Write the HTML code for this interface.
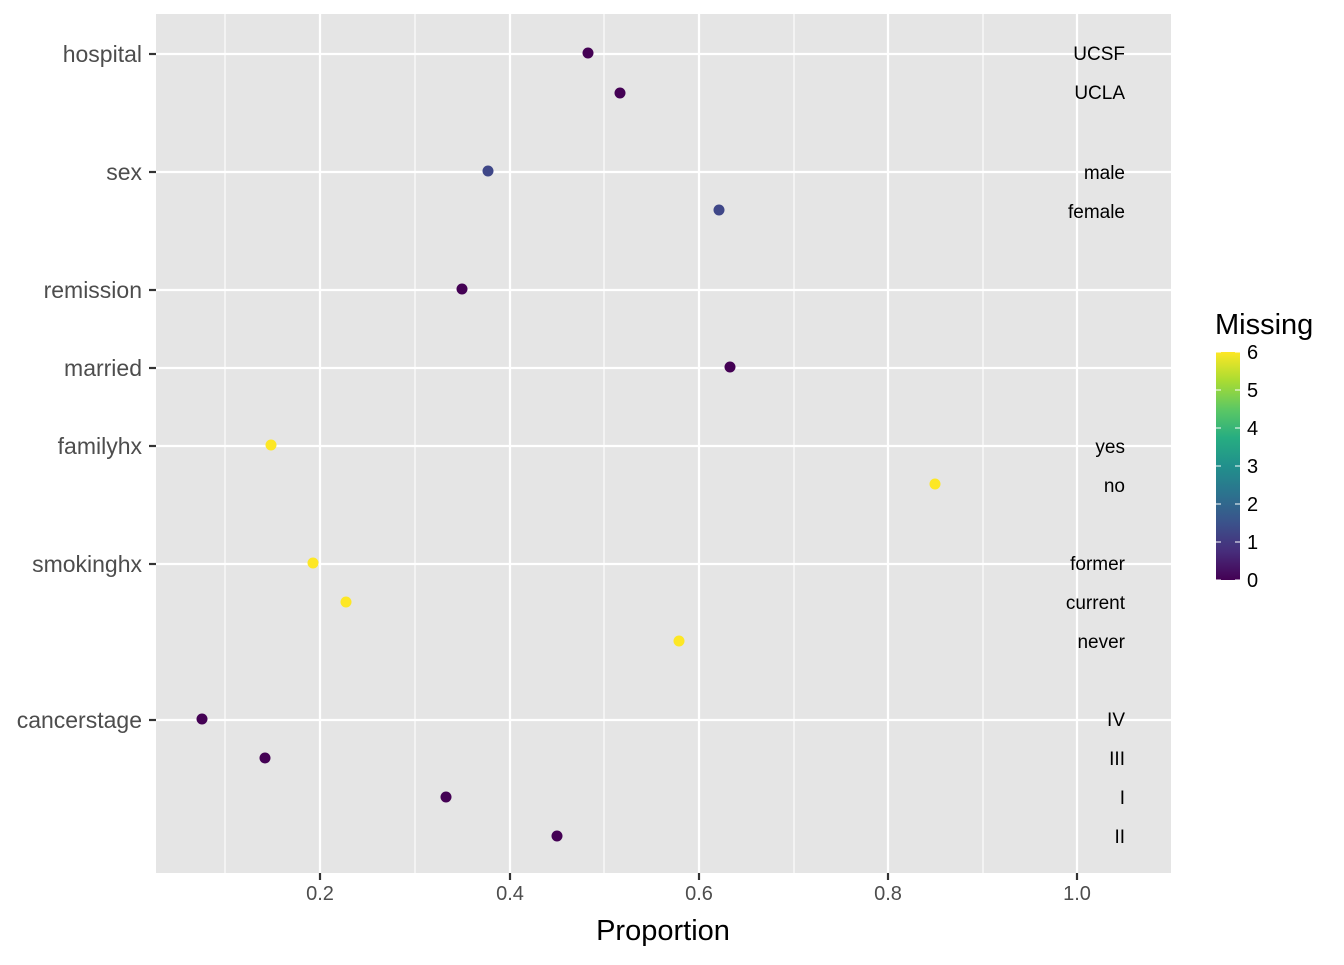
<!DOCTYPE html>
<html><head><meta charset="utf-8"><style>html,body{margin:0;padding:0;background:#fff}</style></head>
<body>
<svg width="1344" height="960" xmlns="http://www.w3.org/2000/svg" font-family="Liberation Sans, sans-serif">
<defs><linearGradient id="vir" x1="0" y1="1" x2="0" y2="0">
<stop offset="0" stop-color="#440154"/><stop offset="0.125" stop-color="#472D7B"/><stop offset="0.25" stop-color="#3B528B"/><stop offset="0.375" stop-color="#2C728E"/><stop offset="0.5" stop-color="#21908C"/><stop offset="0.625" stop-color="#27AD81"/><stop offset="0.75" stop-color="#5DC863"/><stop offset="0.875" stop-color="#AADC32"/><stop offset="1" stop-color="#FDE725"/>
</linearGradient></defs>
<rect x="156" y="14" width="1015" height="859" fill="#e5e5e5"/>
<g stroke="#fff" stroke-width="1.1">
<line x1="225" y1="14" x2="225" y2="873"/><line x1="415" y1="14" x2="415" y2="873"/><line x1="604" y1="14" x2="604" y2="873"/><line x1="794" y1="14" x2="794" y2="873"/><line x1="983" y1="14" x2="983" y2="873"/>
</g>
<g stroke="#fff" stroke-width="2.2">
<line x1="320" y1="14" x2="320" y2="873"/><line x1="510" y1="14" x2="510" y2="873"/><line x1="699" y1="14" x2="699" y2="873"/><line x1="888" y1="14" x2="888" y2="873"/><line x1="1077" y1="14" x2="1077" y2="873"/>
<line x1="156" y1="54" x2="1171" y2="54"/><line x1="156" y1="172" x2="1171" y2="172"/><line x1="156" y1="290" x2="1171" y2="290"/><line x1="156" y1="368" x2="1171" y2="368"/><line x1="156" y1="446" x2="1171" y2="446"/><line x1="156" y1="564" x2="1171" y2="564"/><line x1="156" y1="720" x2="1171" y2="720"/>
</g>
<g stroke="#333" stroke-width="2.2">
<line x1="149" y1="54" x2="156" y2="54"/><line x1="149" y1="172" x2="156" y2="172"/><line x1="149" y1="290" x2="156" y2="290"/><line x1="149" y1="368" x2="156" y2="368"/><line x1="149" y1="446" x2="156" y2="446"/><line x1="149" y1="564" x2="156" y2="564"/><line x1="149" y1="720" x2="156" y2="720"/>
<line x1="320" y1="873" x2="320" y2="880"/><line x1="510" y1="873" x2="510" y2="880"/><line x1="699" y1="873" x2="699" y2="880"/><line x1="888" y1="873" x2="888" y2="880"/><line x1="1077" y1="873" x2="1077" y2="880"/>
</g>
<g fill="#4d4d4d" font-size="23" text-anchor="end">
<text x="142" y="62">hospital</text><text x="142" y="180">sex</text><text x="142" y="298">remission</text><text x="142" y="376">married</text><text x="142" y="454">familyhx</text><text x="142" y="572">smokinghx</text><text x="142" y="728">cancerstage</text>
</g>
<g fill="#4d4d4d" font-size="20" text-anchor="middle">
<text x="320" y="900">0.2</text><text x="510" y="900">0.4</text><text x="699" y="900">0.6</text><text x="888" y="900">0.8</text><text x="1077" y="900">1.0</text>
</g>
<text x="663" y="940" font-size="29" text-anchor="middle" fill="#000">Proportion</text>
<g font-size="19" text-anchor="end" fill="#000">
<text x="1125" y="60">UCSF</text><text x="1125" y="99">UCLA</text><text x="1125" y="179">male</text><text x="1125" y="218">female</text><text x="1125" y="453">yes</text><text x="1125" y="492">no</text><text x="1125" y="570">former</text><text x="1125" y="609">current</text><text x="1125" y="648">never</text><text x="1125" y="726">IV</text><text x="1125" y="765">III</text><text x="1125" y="804">I</text><text x="1125" y="843">II</text>
</g>
<g>
<circle cx="588" cy="53" r="5.5" fill="#440154"/><circle cx="620" cy="93" r="5.5" fill="#440154"/>
<circle cx="488" cy="171" r="5.5" fill="#3F4788"/><circle cx="719" cy="210" r="5.5" fill="#3F4788"/>
<circle cx="462" cy="289" r="5.5" fill="#440154"/><circle cx="730" cy="367" r="5.5" fill="#440154"/>
<circle cx="271" cy="445" r="5.5" fill="#FDE725"/><circle cx="935" cy="484" r="5.5" fill="#FDE725"/>
<circle cx="313" cy="563" r="5.5" fill="#FDE725"/><circle cx="346" cy="602" r="5.5" fill="#FDE725"/><circle cx="679" cy="641" r="5.5" fill="#FDE725"/>
<circle cx="202" cy="719" r="5.5" fill="#440154"/><circle cx="265" cy="758" r="5.5" fill="#440154"/><circle cx="446" cy="797" r="5.5" fill="#440154"/><circle cx="557" cy="836" r="5.5" fill="#440154"/>
</g>
<text x="1215" y="334" font-size="29" fill="#000">Missing</text>
<rect x="1216" y="352" width="24" height="228" fill="url(#vir)"/>
<g stroke="#fff" stroke-width="1">
<line x1="1216" y1="352" x2="1221" y2="352"/><line x1="1235" y1="352" x2="1240" y2="352"/>
<line x1="1216" y1="390" x2="1221" y2="390"/><line x1="1235" y1="390" x2="1240" y2="390"/>
<line x1="1216" y1="428" x2="1221" y2="428"/><line x1="1235" y1="428" x2="1240" y2="428"/>
<line x1="1216" y1="466" x2="1221" y2="466"/><line x1="1235" y1="466" x2="1240" y2="466"/>
<line x1="1216" y1="504" x2="1221" y2="504"/><line x1="1235" y1="504" x2="1240" y2="504"/>
<line x1="1216" y1="542" x2="1221" y2="542"/><line x1="1235" y1="542" x2="1240" y2="542"/>
<line x1="1216" y1="580" x2="1221" y2="580"/><line x1="1235" y1="580" x2="1240" y2="580"/>
</g>
<g font-size="20" fill="#000">
<text x="1247" y="359">6</text><text x="1247" y="397">5</text><text x="1247" y="435">4</text><text x="1247" y="473">3</text><text x="1247" y="511">2</text><text x="1247" y="549">1</text><text x="1247" y="587">0</text>
</g>
</svg>
</body></html>
